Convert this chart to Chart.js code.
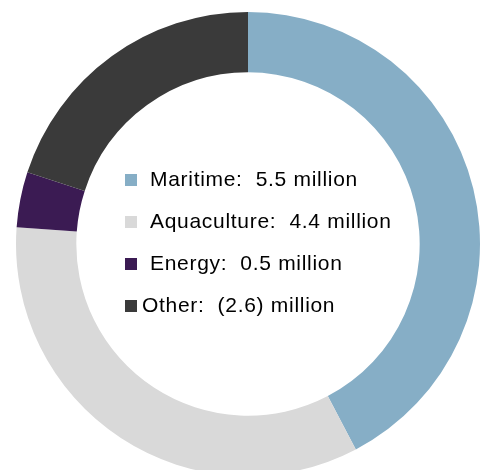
<!DOCTYPE html>
<html>
<head>
<meta charset="utf-8">
<script src="https://cdn.jsdelivr.net/npm/chart.js@4"></script>
<style>
  html, body { margin: 0; padding: 0; background: #fff; overflow: hidden; width: 483px; height: 470px; }
  #wrap { position: absolute; left: 0; top: 0; width: 496px; height: 488px; }
  #legend { position: absolute; left: 0; top: 0; font-family: "Liberation Sans", Arial, sans-serif; font-size: 21px; letter-spacing: 0.7px; color: #000; }
  .sw { position: absolute; width: 12px; height: 12px; }
  .tx { position: absolute; white-space: pre; }
</style>
</head>
<body>
<div id="wrap"><canvas id="c" width="496" height="488"></canvas></div>
<div id="legend"></div>
<script>
const categories = ['Maritime', 'Aquaculture', 'Energy', 'Other'];
const values = [5.5, 4.4, 0.5, 2.6];
const valueLabels = ['5.5', '4.4', '0.5', '(2.6)'];
const colors = ['#86AEC6', '#D9D9D9', '#3B1B53', '#3A3A3A'];

new Chart(document.getElementById('c'), {
  type: 'doughnut',
  data: {
    labels: categories,
    datasets: [{ data: values, backgroundColor: colors, borderWidth: 0, hoverOffset: 0 }]
  },
  options: {
    responsive: false,
    animation: false,
    cutout: '74%',
    layout: { padding: 12 },
    plugins: { legend: { display: false }, tooltip: { enabled: false } }
  }
});

// Center legend (HTML text), built from the arrays
const legend = document.getElementById('legend');
const baseY = 187, step = 42;
categories.forEach((cat, i) => {
  const y = baseY + i * step;
  const sw = document.createElement('div');
  sw.className = 'sw';
  sw.style.background = colors[i];
  sw.style.left = '125px';
  sw.style.top = (y - 13) + 'px';
  legend.appendChild(sw);
  const tx = document.createElement('div');
  tx.className = 'tx';
  tx.textContent = cat + ':  ' + valueLabels[i] + ' million';
  tx.style.left = (i === 3 ? 142 : 150) + 'px';
  tx.style.top = (y - 19) + 'px';
  tx.style.lineHeight = '21px';
  legend.appendChild(tx);
});
</script>
</body>
</html>
